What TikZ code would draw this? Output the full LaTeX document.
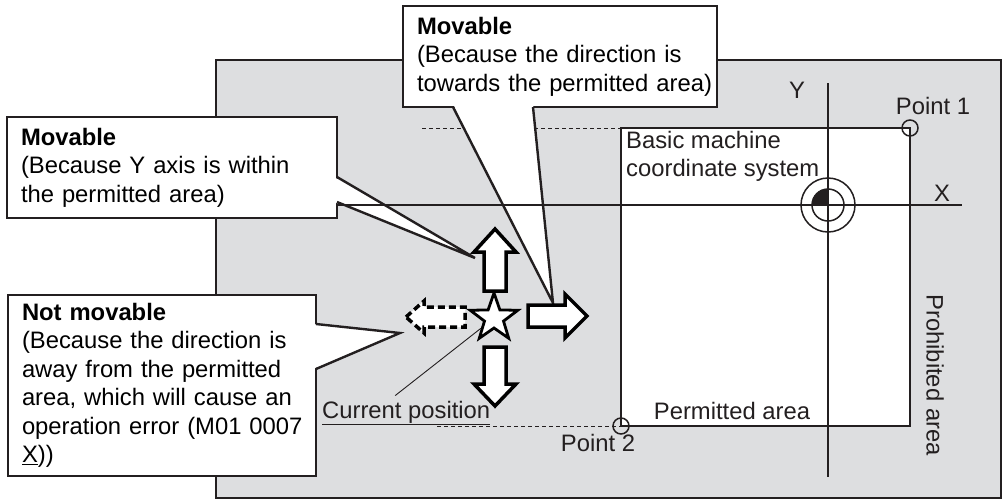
\documentclass[tikz,border=0pt]{standalone}
\usepackage{fontspec}
\setmainfont{Liberation Sans}
\usetikzlibrary{calc, positioning, shapes.geometric}

\definecolor{areagray}{RGB}{221,222,224}
\definecolor{inkgray}{RGB}{35,31,32}
\newcommand{\notefont}{\fontsize{23.8}{28.5}\selectfont}

\begin{document}
\begin{tikzpicture}[
    x=1pt, y=-1pt,
    area/.style={draw=inkgray, line width=1.8pt, fill=areagray},
    permit/.style={draw=inkgray, line width=1.8pt, fill=white},
    axisline/.style={draw=inkgray, line width=1.6pt},
    guide/.style={draw=inkgray, line width=0.9pt, dash pattern=on 4pt off 3pt},
    pointmark/.style={draw=inkgray, line width=1.5pt},
    note/.style={
      rectangle, draw=inkgray, line width=2.4pt, fill=white, outer sep=0pt,
      anchor=north west, align=left, inner xsep=14pt, inner ysep=0pt,
      font=\notefont
    },
    ptr/.style={draw=inkgray, line width=2.4pt, line join=miter},
    lbl/.style={font=\notefont, text=inkgray, inner sep=0pt},
    mvarrow/.style={draw=black, line width=3.5pt, fill=white, line join=miter},
    nomove/.style={mvarrow, dash pattern=on 7pt off 4pt},
    leader/.style={draw=inkgray, line width=0.9pt},
  ]
  \useasboundingbox (0,0) rectangle (1003,501);

  % Machine area, permitted area and its two corner points
  \draw[area] (216,60) rectangle (1001,498);
  \coordinate (p1) at (910,128);
  \coordinate (p2) at (621,426);
  \coordinate (org) at (828,205);
  \draw[permit] (p2) rectangle (p1);
  \draw[guide] (422,128) -- (p2 |- p1);
  \draw[guide] (437,426) -- (p2);

  % Callout: movable, direction towards the permitted area
  \coordinate (tipT) at (553,303);
  \node[note, text width=286pt, minimum height=101pt] (mvtop) at (403,6)
    {\textbf{Movable}\\\mbox{(Because the direction is}\\\mbox{towards the permitted area)}};
  \fill[white] ($(mvtop.south west)+(50,-3)$) -- (tipT) -- ($(mvtop.south west)+(130,-3)$) -- cycle;
  \draw[ptr] ($(mvtop.south west)+(50,0)$) -- (tipT) -- ($(mvtop.south west)+(130,0)$);

  % Callout: movable, Y axis inside
  \coordinate (tipL) at (475,258);
  \node[note, text width=302pt, minimum height=101pt] (mvleft) at (7,117)
    {\textbf{Movable}\\(Because Y axis is within\\the permitted area)};
  \fill[white] ($(mvleft.north east)+(-3,60)$) -- (tipL) -- ($(mvleft.north east)+(-3,85)$) -- cycle;
  \draw[ptr] ($(mvleft.north east)+(0,60)$) -- (tipL) -- ($(mvleft.north east)+(0,85)$);

  % Callout: not movable
  \coordinate (tipB) at (400,333);
  \node[note, text width=280pt, minimum height=181pt] (nomv) at (8,295)
    {\textbf{Not movable}\\\mbox{(Because the direction is}\\\mbox{away from the permitted}\\\mbox{area, which will cause an}\\\mbox{operation error (M01 0007}\\\underline{X}))};
  \fill[white] ($(nomv.north east)+(-3,29)$) -- (tipB) -- ($(nomv.north east)+(-3,74)$) -- cycle;
  \draw[ptr] ($(nomv.north east)+(0,29)$) -- (tipB) -- ($(nomv.north east)+(0,74)$);

  % Axes of the basic machine coordinate system
  \draw[axisline] (mvleft.east |- org) -- (962,205);
  \draw[axisline] (828,83) -- (828,477);
  \draw[pointmark] (org) circle[radius=27] (org) circle[radius=16];
  \begin{scope}
    \clip ($(org)+(-16,-16)$) rectangle (org);
    \fill[inkgray] (org) circle[radius=16];
  \end{scope}
  \draw[pointmark] (p1) circle[radius=8];
  \draw[pointmark] (p2) circle[radius=8];

  % Labels
  \node[lbl] (ylbl) at (797,90) {Y};
  \node[lbl] (xlbl) at (942,193) {X};
  \node[lbl, anchor=north west, align=left] (bmcs) at (626,131) {Basic machine\\coordinate system};
  \node[lbl] (p1lbl) at ($(p1)+(23,-22)$) {Point 1};
  \node[lbl] (p2lbl) at ($(p2)+(-23,17)$) {Point 2};
  \node[lbl] (perm) at (732,411) {Permitted area};
  \node[lbl, rotate=-90] (prohib) at (935,375) {Prohibited area};

  % Current position and the four jog directions
  \node[star, star points=5, star point ratio=2.5, minimum size=50pt, inner sep=0pt,
    draw=black, line width=2.8pt, fill=white] (cur) at (494,318) {};
  \node[lbl, anchor=base west] (curtext) at (322,418) {\underline{Current position}};
  \draw[leader] ($(curtext.north)+(-11,-5)$) -- (cur);

  \draw[mvarrow] (495,229) -- ++(21,23) -- ++(-10,0) -- ++(0,39) -- ++(-22,0) -- ++(0,-39) -- ++(-10,0) -- cycle;
  \draw[mvarrow] (495,406) -- ++(21,-22) -- ++(-10,0) -- ++(0,-37) -- ++(-22,0) -- ++(0,37) -- ++(-10,0) -- cycle;
  \draw[mvarrow] (587,316) -- ++(-22,-22) -- ++(0,11) -- ++(-37,0) -- ++(0,22) -- ++(37,0) -- ++(0,11) -- cycle;
  \draw[nomove] (406,317) -- ++(18,-16) -- ++(0,6) -- ++(41,0) -- ++(0,20) -- ++(-41,0) -- ++(0,6) -- cycle;

\end{tikzpicture}
\end{document}
